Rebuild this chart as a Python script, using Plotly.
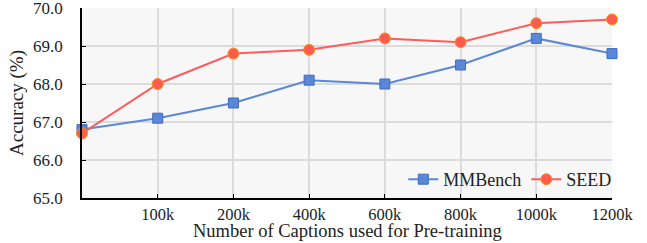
import plotly.graph_objects as go

categories = ["", "100k", "200k", "400k", "600k", "800k", "1000k", "1200k"]
mmbench = [66.8, 67.1, 67.5, 68.1, 68.0, 68.5, 69.2, 68.8]
seed = [66.7, 68.0, 68.8, 68.9, 69.2, 69.1, 69.6, 69.7]
y_ticks = [65.0, 66.0, 67.0, 68.0, 69.0, 70.0]
x_title = "Number of Captions used for Pre-training"
y_title = "Accuracy (%)"

xs = list(range(len(categories)))
font = "'Liberation Serif', 'Times New Roman', Times, serif"

fig = go.Figure()
fig.add_trace(go.Scatter(
    x=xs, y=mmbench, name="MMBench", mode="lines+markers",
    line=dict(color="#5b88d6", width=2),
    marker=dict(symbol="square", size=10, color="#5b88d6",
                line=dict(color="#3d6cc0", width=1)),
    cliponaxis=False,
))
fig.add_trace(go.Scatter(
    x=xs, y=seed, name="SEED", mode="lines+markers",
    line=dict(color="#ff5b5b", width=2),
    marker=dict(symbol="circle", size=11, color="#ff5b4f",
                line=dict(color="#f7931e", width=1)),
    cliponaxis=False,
))

fig.update_layout(
    width=647, height=243,
    margin=dict(l=82, r=35, t=8, b=45, autoexpand=False),
    paper_bgcolor="white",
    plot_bgcolor="#f7f7f7",
    font=dict(family=font, size=17, color="#222"),
    showlegend=True,
    legend=dict(orientation="h", x=1.01, y=0.0, xanchor="right", yanchor="bottom",
                bgcolor="rgba(0,0,0,0)", font=dict(family=font, size=18),
                tracegroupgap=0, traceorder="normal"),
)
fig.add_annotation(
    text=x_title, xref="paper", yref="paper", x=0.5, y=-45 / 190,
    xanchor="center", yanchor="bottom", yshift=1, showarrow=False,
    borderpad=0,
    font=dict(family=font, size=18.5, color="#222"),
)
fig.update_xaxes(
    range=[0, len(categories) - 1],
    tickmode="array", tickvals=xs, ticktext=categories,
    showgrid=True, gridcolor="#dcdcdc", gridwidth=1.5,
    showline=True, linecolor="black", linewidth=1.5,
    ticks="inside", ticklen=4, tickcolor="black",
    zeroline=False, automargin=False, ticklabeloverflow="allow",
    tickfont=dict(family=font, size=16.5),
)
fig.update_yaxes(
    range=[65, 70],
    tickmode="array", tickvals=y_ticks, ticktext=[f"{v:.1f}" for v in y_ticks],
    showgrid=True, gridcolor="#dcdcdc", gridwidth=1.5,
    showline=True, linecolor="black", linewidth=1.5,
    ticks="inside", ticklen=4, tickcolor="black",
    zeroline=False, automargin=False, ticklabeloverflow="allow",
    ticklabelstandoff=14,
    title=dict(text=y_title, font=dict(family=font, size=19), standoff=4),
    tickfont=dict(family=font, size=17),
)

fig.write_html("out.html", config={"displayModeBar": False},
               post_script="document.body.style.margin='0';")
